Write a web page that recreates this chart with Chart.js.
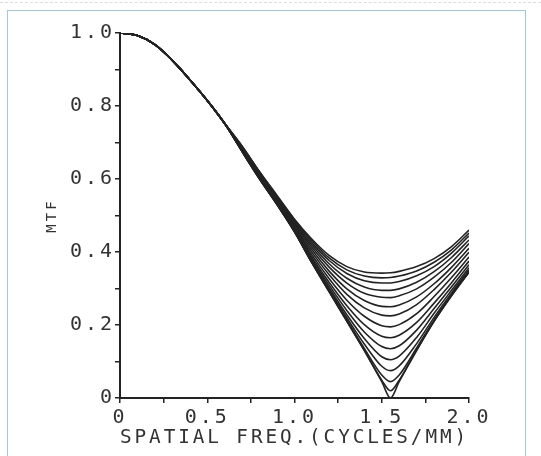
<!DOCTYPE html>
<html>
<head>
<meta charset="utf-8">
<script src="https://cdn.jsdelivr.net/npm/chart.js@4.4.1/dist/chart.umd.min.js"></script>
<style>
  html, body { margin: 0; padding: 0; background: #fff; }
  #wrap { position: relative; width: 541px; height: 456px; overflow: hidden; }
  #frame { position: absolute; left: 7px; top: 10px; width: 519px; height: 460px;
           border: 1.5px solid #9ccbe0; box-sizing: border-box; }
  #topline { position: absolute; left: 0; top: 2px; width: 541px; border-top: 1px dashed #ddd; }
  canvas { position: absolute; left: 0; top: 0; }
</style>
</head>
<body>
<div id="wrap">
  <div id="topline"></div>
  <div id="frame"></div>
  <canvas id="mtfChart" width="541" height="456"></canvas>
</div>
<script>
// shared part of every curve (all curves coincide here)
const freqHead = [0, 0.1, 0.2, 0.3, 0.4, 0.5, 0.6];
const mtfHead  = [1.0, 0.993, 0.968, 0.925, 0.872, 0.815, 0.752];

// part where the curves fan out
const freqTail = [0.7, 0.8, 0.9, 1.0, 1.1, 1.2, 1.3, 1.4, 1.5, 1.55, 1.6, 1.7, 1.8, 1.9, 2.0];
const curve01 = [.690, .620, .555, .490, .435, .390, .360, .345, .342, .343, .347, .360, .382, .415, .460];
const curve02 = [.689, .619, .553, .488, .431, .383, .351, .334, .329, .330, .334, .348, .372, .406, .452];
const curve03 = [.688, .617, .551, .485, .425, .376, .341, .321, .315, .315, .319, .335, .360, .397, .444];
const curve04 = [.686, .615, .549, .481, .419, .367, .328, .304, .295, .295, .299, .317, .346, .385, .433];
const curve05 = [.685, .613, .546, .478, .413, .358, .315, .287, .276, .275, .280, .299, .331, .372, .423];
const curve06 = [.683, .611, .543, .474, .406, .347, .299, .267, .251, .250, .255, .277, .313, .358, .410];
const curve07 = [.681, .609, .541, .470, .399, .337, .284, .247, .227, .225, .230, .256, .297, .345, .399];
const curve08 = [.680, .606, .538, .467, .392, .326, .268, .224, .198, .195, .201, .231, .278, .330, .386];
const curve09 = [.678, .605, .536, .463, .386, .316, .253, .201, .169, .165, .172, .207, .260, .316, .375];
const curve10 = [.677, .603, .534, .461, .381, .308, .240, .181, .141, .135, .143, .186, .245, .305, .365];
const curve11 = [.676, .602, .532, .458, .377, .301, .228, .163, .113, .105, .115, .166, .232, .295, .357];
const curve12 = [.676, .601, .531, .457, .373, .296, .220, .148, .087, .075, .088, .149, .221, .288, .351];
const curve13 = [.675, .600, .530, .456, .371, .292, .214, .136, .063, .045, .063, .137, .214, .283, .347];
const curve14 = [.675, .600, .530, .455, .370, .290, .211, .131, .049, .020, .049, .132, .211, .281, .345];
const curve15 = [.675, .600, .530, .455, .370, .290, .210, .130, .045, .000, .045, .130, .210, .280, .345];
const tails = [curve01, curve02, curve03, curve04, curve05, curve06, curve07, curve08,
               curve09, curve10, curve11, curve12, curve13, curve14, curve15];

const xTitle = 'SPATIAL FREQ.(CYCLES/MM)';
const yTitle = 'MTF';

const INK = '#232323';
const MONO = "'DejaVu Sans Mono', 'Liberation Mono', monospace";
const FONT = { family: MONO, size: 20 };

const datasets = tails.map((tail, k) => ({
    label: 'c' + (k + 1),
    data: freqHead.map((x, i) => ({ x: x, y: mtfHead[i] }))
        .concat(freqTail.map((x, i) => ({ x: x, y: tail[i] }))),
    borderColor: INK,
    borderWidth: 1.6,
    pointRadius: 0,
    fill: false,
    cubicInterpolationMode: 'monotone'
}));

// wide dot-matrix look of the original lettering
const spacing = {
    id: 'spacing',
    beforeDraw(chart) { chart.ctx.letterSpacing = '3px'; }
};

new Chart(document.getElementById('mtfChart'), {
    type: 'line',
    data: { datasets: datasets },
    plugins: [spacing],
    options: {
        responsive: false,
        animation: false,
        devicePixelRatio: 1,
        layout: { padding: { left: 44, top: 33, right: 72, bottom: 6 } },
        plugins: { legend: { display: false }, tooltip: { enabled: false } },
        scales: {
            x: {
                type: 'linear',
                min: 0, max: 2,
                afterFit: s => { s.height = 52; },
                border: { color: INK, width: 2 },
                grid: { drawOnChartArea: false, drawTicks: true, tickLength: 5, color: INK, lineWidth: 1.5 },
                ticks: {
                    stepSize: 0.25, autoSkip: false, maxRotation: 0, padding: 3,
                    color: '#333', font: FONT,
                    callback: v => (Math.round(v * 4) % 2 === 0) ? (v === 0 ? '0' : v.toFixed(1)) : ''
                },
                title: { display: true, text: xTitle, color: '#333', font: FONT, padding: 0 }
            },
            y: {
                min: 0, max: 1,
                afterFit: s => { s.width = 76; },
                border: { color: INK, width: 2 },
                grid: { drawOnChartArea: false, drawTicks: true, tickLength: 5, color: INK, lineWidth: 1.5 },
                ticks: {
                    stepSize: 0.1, autoSkip: false, padding: 0,
                    color: '#333', font: FONT,
                    callback: v => (Math.round(v * 10) % 2 === 0) ? (v === 0 ? '0' : v.toFixed(1)) : ''
                },
                title: { display: true, text: yTitle, color: '#333', font: { family: MONO, size: 14 }, padding: 0 }
            }
        }
    }
});
</script>
</body>
</html>
